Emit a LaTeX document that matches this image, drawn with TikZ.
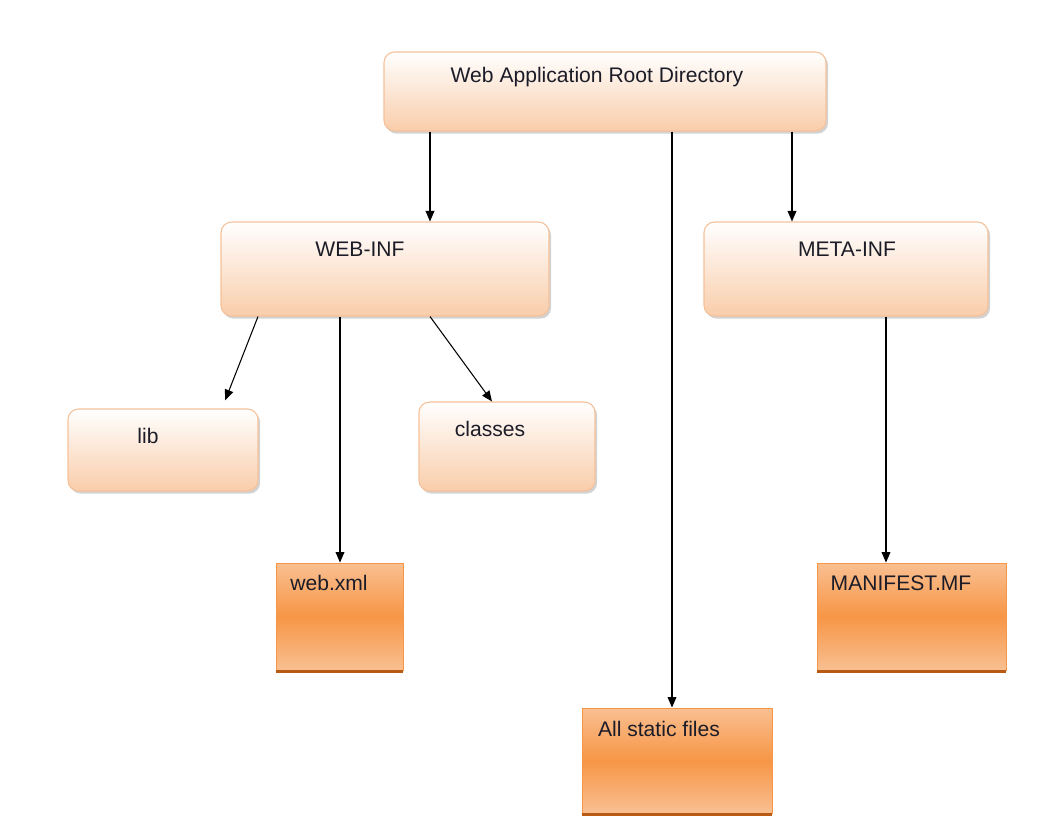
\documentclass[tikz,border=0pt]{standalone}
\usepackage{fontspec}
\setmainfont{Liberation Sans}
\usepackage{tikz}
\usetikzlibrary{arrows.meta,positioning,calc,shadows}
\usepackage{xcolor}
\definecolor{peach}{HTML}{F9CDAA}
\definecolor{peachln}{HTML}{F5C19A}
\definecolor{org}{HTML}{F79646}
\definecolor{orglt}{HTML}{F9BF91}
\definecolor{orgdk}{HTML}{B85A14}
\definecolor{ink}{HTML}{1C1C28}

\tikzset{
  rbox/.style={draw=peachln,line width=0.6pt,rounded corners=6pt,inner sep=0pt,
    top color=white,bottom color=peach,
    drop shadow={opacity=0.35,shadow xshift=1.2pt,shadow yshift=-1.5pt}},
  obox/.style={draw=org,line width=0.5pt,inner sep=0pt,
    top color=orglt,bottom color=orglt,middle color=org},
  txt/.style={font=\fontsize{12}{14}\selectfont,text=ink,inner sep=0pt},
  arr/.style={-{Triangle[length=6pt,width=5pt]},line width=0.6pt,black}
}

\begin{document}
\begin{tikzpicture}[x=0.02cm,y=-0.02cm]
  \useasboundingbox (0,0) rectangle (1042,835);
  % folders (rounded boxes)
  \foreach \nm/\cx/\cy/\w/\h in {root/605/91.5/442/79, webinf/385/269/328/94,
      metainf/846/269/284/94, lib/163/450/190/82, classes/507/446.5/176/89} {
    \node[rbox,minimum width={\w*0.02cm},minimum height={\h*0.02cm}] (\nm) at (\cx,\cy) {};
  }
  % files (square boxes) with their dark bottom edge
  \foreach \nm/\cx/\cy/\w/\h in {webxml/339.5/616.5/127/107,
      manifest/911.5/616.5/189/107, static/677/760.5/190/105} {
    \node[obox,minimum width={\w*0.02cm},minimum height={\h*0.02cm}] (\nm) at (\cx,\cy) {};
    \draw[orgdk,line width=1.6pt] ([yshift=-0.8pt]\nm.south west) -- ([yshift=-0.8pt]\nm.south east);
  }
  % labels
  \node[txt] (troot) at (597,77) {Web Application Root Directory};
  \node[txt] (twebinf) at (360,249) {WEB-INF};
  \node[txt] (tmetainf) at (847,249) {META-INF};
  \node[txt] (tlib) at (148,436) {lib};
  \node[txt] (tclasses) at (490,429) {classes};
  \node[txt] (twebxml) at (329,583) {web.xml};
  \node[txt] (tmanifest) at (901,583) {MANIFEST.MF};
  \node[txt] (tstatic) at (659,729) {All static files};
  % arrows
  \draw[arr] (root.south -| 430,0) -- (webinf.north -| 430,0);
  \draw[arr] (root.south -| 672,0) -- (static.north -| 672,0);
  \draw[arr] (root.south -| 792,0) -- (metainf.north -| 792,0);
  \draw[arr,shorten >=5pt] (webinf.south -| 258,0) -- (lib.north -| 222,0);
  \draw[arr] (webinf.south -| 340,0) -- (webxml.north -| 340,0);
  \draw[arr] (webinf.south -| 430,0) -- (classes.north -| 492,0);
  \draw[arr] (metainf.south -| 886,0) -- (manifest.north -| 886,0);
\end{tikzpicture}
\end{document}
